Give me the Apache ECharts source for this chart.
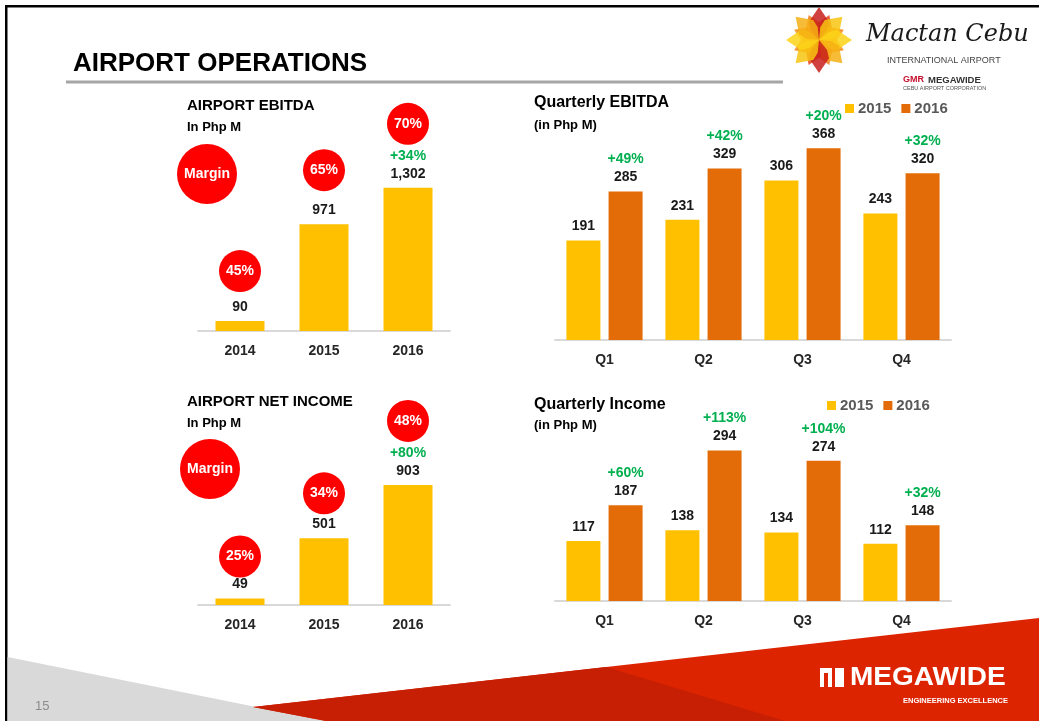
<!DOCTYPE html>
<html>
<head>
<meta charset="utf-8">
<title>Airport Operations</title>
<script src="https://cdn.jsdelivr.net/npm/echarts@6/dist/echarts.min.js"></script>
<style>
  html, body { margin: 0; padding: 0; background: #fff; }
  #main { width: 1039px; height: 721px; }
</style>
</head>
<body>
<div id="main"></div>
<script>
// ---- data ----
var years = ['2014', '2015', '2016'];
var ebitda = [90, 971, 1302];
var ebitdaMargin = [45, 65, 70];
var ebitdaGrowth = [null, null, 34];

var netIncome = [49, 501, 903];
var netMargin = [25, 34, 48];
var netGrowth = [null, null, 80];

var quarters = ['Q1', 'Q2', 'Q3', 'Q4'];
var qEbitda2015 = [191, 231, 306, 243];
var qEbitda2016 = [285, 329, 368, 320];
var qEbitdaGrowth = [49, 42, 20, 32];

var qIncome2015 = [117, 138, 134, 112];
var qIncome2016 = [187, 294, 274, 148];
var qIncomeGrowth = [60, 113, 104, 32];

// ---- look ----
var FONT = '"Liberation Sans", Arial, sans-serif';
var YELLOW = '#ffc000';
var ORANGE = '#e36c09';
var GREEN = '#00b050';
var RED = '#ff0000';

// circle offset above bar top (px), layout only
var ebitdaCircleOffset = [50, 54, 64];
var netCircleOffset = [42, 45, 64];

var chart = echarts.init(document.getElementById('main'));

function valueLabel(growth) {
  return {
    show: true,
    position: 'top',
    distance: 5,
    formatter: function (p) {
      var v = '{v|' + p.value.toLocaleString('en-US') + '}';
      var g = growth ? growth[p.dataIndex] : null;
      return g != null ? '{g|+' + g + '%}\n' + v : v;
    },
    rich: {
      v: { fontFamily: FONT, fontSize: 14, fontWeight: 'bold', color: '#1a1a1a', lineHeight: 18 },
      g: { fontFamily: FONT, fontSize: 14, fontWeight: 'bold', color: GREEN, lineHeight: 18 }
    }
  };
}

function marginPoints(values, margins, offsets) {
  return {
    symbol: 'circle',
    symbolSize: 42,
    itemStyle: { color: RED },
    label: {
      show: true,
      color: '#fff',
      fontFamily: FONT,
      fontSize: 14,
      fontWeight: 'bold',
      formatter: function (p) { return p.name; }
    },
    data: margins.map(function (m, i) {
      return { name: m + '%', coord: [i, values[i]], symbolOffset: [0, -offsets[i]] };
    })
  };
}

function catAxis(idx, data) {
  return {
    type: 'category',
    gridIndex: idx,
    data: data,
    axisLine: { lineStyle: { color: '#d9d9d9', width: 2 } },
    axisTick: { show: false },
    axisLabel: { margin: 13, fontFamily: FONT, fontSize: 14, fontWeight: 'bold', color: '#262626' }
  };
}

function valAxis(idx, max) {
  return { type: 'value', gridIndex: idx, min: 0, max: max, show: false };
}

function txt(x, y, s, font, color, align) {
  return {
    type: 'text', x: x, y: y, z: 10,
    style: {
      text: s, font: font, fill: color || '#000',
      align: align || 'left', verticalAlign: 'middle',
      textAlign: align || 'left', textVerticalAlign: 'middle'
    }
  };
}

function legendAt(left, top) {
  return {
    data: ['2015', '2016'],
    left: left, top: top, padding: 0,
    icon: 'rect', itemWidth: 9, itemHeight: 9, itemGap: 10,
    selectedMode: false,
    textStyle: { fontFamily: FONT, fontSize: 15, fontWeight: 'bold', color: '#595959', padding: [0, 0, 0, -1] }
  };
}

// flower petals for the airport logo
var petalColors = ['#c81f1c', '#f39019', '#f8c411', '#ef7a1a', '#fbd417', '#e8461c', '#f6b014', '#f28c1b'];
var petals = [];
for (var k = 0; k < 16; k++) {
  var big = k % 2 === 0;
  var len = big ? 33 : 27;
  var w = big ? 10 : 8;
  petals.push({
    type: 'polygon',
    rotation: -k * Math.PI / 8,
    shape: { points: [[0, 0], [w * 0.8, -len * 0.3], [w, -len * 0.55], [0, -len], [-w, -len * 0.55], [-w * 0.8, -len * 0.3]] },
    style: { fill: petalColors[(k * 5) % 8], opacity: 0.85 },
    z: big ? 2 : 1
  });
}

var option = {
  animation: false,
  backgroundColor: '#fff',
  textStyle: { fontFamily: FONT },
  grid: [
    { left: 198, top: 111, width: 252, height: 220 },
    { left: 198, top: 405.5, width: 252, height: 199.5 },
    { left: 555, top: 131.6, width: 396, height: 208.4 },
    { left: 555, top: 421.8, width: 396, height: 179.2 }
  ],
  xAxis: [catAxis(0, years), catAxis(1, years), catAxis(2, quarters), catAxis(3, quarters)],
  yAxis: [valAxis(0, 2000), valAxis(1, 1500), valAxis(2, 400), valAxis(3, 350)],
  legend: [legendAt(845, 101), legendAt(827, 398)],
  series: [
    {
      name: 'Airport EBITDA', type: 'bar', xAxisIndex: 0, yAxisIndex: 0,
      data: ebitda, barWidth: 49, itemStyle: { color: YELLOW },
      label: valueLabel(ebitdaGrowth),
      markPoint: marginPoints(ebitda, ebitdaMargin, ebitdaCircleOffset)
    },
    {
      name: 'Airport Net Income', type: 'bar', xAxisIndex: 1, yAxisIndex: 1,
      data: netIncome, barWidth: 49, itemStyle: { color: YELLOW },
      label: valueLabel(netGrowth),
      markPoint: marginPoints(netIncome, netMargin, netCircleOffset)
    },
    {
      name: '2015', type: 'bar', xAxisIndex: 2, yAxisIndex: 2,
      data: qEbitda2015, barWidth: 34, barGap: '24%', itemStyle: { color: YELLOW },
      label: valueLabel(null)
    },
    {
      name: '2016', type: 'bar', xAxisIndex: 2, yAxisIndex: 2,
      data: qEbitda2016, barWidth: 34, barGap: '24%', itemStyle: { color: ORANGE },
      label: valueLabel(qEbitdaGrowth)
    },
    {
      name: '2015', type: 'bar', xAxisIndex: 3, yAxisIndex: 3,
      data: qIncome2015, barWidth: 34, barGap: '24%', itemStyle: { color: YELLOW },
      label: valueLabel(null)
    },
    {
      name: '2016', type: 'bar', xAxisIndex: 3, yAxisIndex: 3,
      data: qIncome2016, barWidth: 34, barGap: '24%', itemStyle: { color: ORANGE },
      label: valueLabel(qIncomeGrowth)
    }
  ],
  graphic: [
    // slide frame
    { type: 'rect', shape: { x: 5, y: 5, width: 1034, height: 2.5 }, style: { fill: '#000' } },
    { type: 'rect', shape: { x: 5, y: 5, width: 2.5, height: 716 }, style: { fill: '#000' } },

    // heading
    txt(73, 64, 'AIRPORT OPERATIONS', 'bold 26px ' + FONT, '#000'),
    { type: 'rect', shape: { x: 66, y: 80.5, width: 717, height: 3 }, style: { fill: '#a6a6a6' } },

    // chart titles
    txt(187, 106, 'AIRPORT EBITDA', 'bold 15px ' + FONT, '#000'),
    txt(187, 127, 'In Php M', 'bold 13px ' + FONT, '#000'),
    txt(187, 402, 'AIRPORT NET INCOME', 'bold 15px ' + FONT, '#000'),
    txt(187, 423, 'In Php M', 'bold 13px ' + FONT, '#000'),
    txt(534, 103, 'Quarterly EBITDA', 'bold 16px ' + FONT, '#000'),
    txt(534, 125, '(in Php M)', 'bold 13px ' + FONT, '#000'),
    txt(534, 405, 'Quarterly Income', 'bold 16px ' + FONT, '#000'),
    txt(534, 425, '(in Php M)', 'bold 13px ' + FONT, '#000'),

    // "Margin" badges
    { type: 'circle', shape: { cx: 207, cy: 174, r: 30 }, style: { fill: RED } },
    txt(207, 174, 'Margin', 'bold 14px ' + FONT, '#fff', 'center'),
    { type: 'circle', shape: { cx: 210, cy: 469, r: 30 }, style: { fill: RED } },
    txt(210, 469, 'Margin', 'bold 14px ' + FONT, '#fff', 'center'),

    // footer shapes
    { type: 'polygon', shape: { points: [[7.5, 657], [326, 721], [7.5, 721]] }, style: { fill: '#d9d9d9' } },
    { type: 'polygon', shape: { points: [[253, 707], [1039, 618], [1039, 721], [326, 721]] }, style: { fill: '#dd2400' } },
    { type: 'polygon', shape: { points: [[253, 707], [606, 667], [785, 721], [326, 721]] }, style: { fill: '#c61f04' } },
    txt(35, 706, '15', '13px ' + FONT, '#8c8c8c'),

    // megawide footer logo
    { type: 'rect', shape: { x: 820, y: 668, width: 12, height: 19 }, style: { fill: '#fff' } },
    { type: 'rect', shape: { x: 824, y: 673, width: 4, height: 14 }, style: { fill: '#dd2400' } },
    { type: 'rect', shape: { x: 835, y: 668, width: 9, height: 19 }, style: { fill: '#fff' } },
    { type: 'text', x: 850, y: 678, scaleX: 1.12, z: 10,
      style: { text: 'MEGAWIDE', font: 'bold 25px ' + FONT, fill: '#fff', verticalAlign: 'middle', textVerticalAlign: 'middle' } },
    txt(1008, 701, 'ENGINEERING EXCELLENCE', 'bold 7.5px ' + FONT, '#fff', 'right'),

    // airport logo
    { type: 'group', x: 819, y: 40, children: petals },
    { type: 'text', x: 866, y: 35, z: 10,
      style: { text: 'Mactan Cebu', font: 'italic 24px "DejaVu Serif", serif', fill: '#1a1a1a', verticalAlign: 'middle', textVerticalAlign: 'middle' } },
    txt(887, 61, 'INTERNATIONAL AIRPORT', '9px ' + FONT, '#444'),
    txt(903, 80, 'GMR', 'bold 9px ' + FONT, '#c8102e'),
    txt(928, 80, 'MEGAWIDE', 'bold 9.5px ' + FONT, '#333'),
    txt(903, 88, 'CEBU AIRPORT CORPORATION', '5.5px ' + FONT, '#555')
  ]
};

chart.setOption(option);
</script>
</body>
</html>
